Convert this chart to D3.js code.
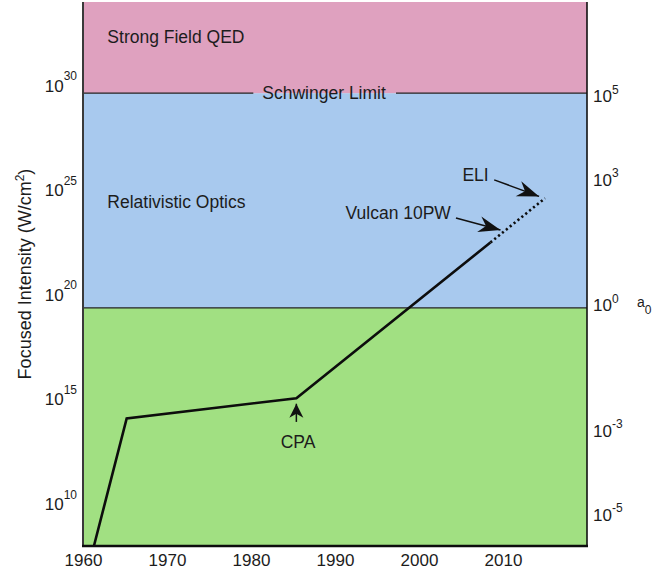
<!DOCTYPE html>
<html>
<head>
<meta charset="utf-8">
<script src="https://cdn.jsdelivr.net/npm/d3@7"></script>
<style>
body { margin: 0; background: #fff; }
text { font-family: "Liberation Sans", Arial, sans-serif; fill: #1c1c1c; }
</style>
</head>
<body>
<script>
// Datos
const years = [1961.3, 1965.2, 1985.4, 2008.5];
const intensity = [1e8, 1.26e14, 1.15e15, 3.2e22];
const projYears = [2008.5, 2015];
const projIntensity = [3.2e22, 4.2e24];

const regionNames = ["", "Relativistic Optics", "Strong Field QED"];
const regionBounds = [1e8, 2.4e19, 4.4e29, 1e34];
const regionColors = ["#a1e082", "#a8c9ee", "#dfa1bf"];
const regionLabelYear = 1962.9;
const regionLabelI = [0, 10 ** 24.46, 10 ** 32.35];

const schwingerLabel = "Schwinger Limit";
const schwingerYear = 1988.7;

const xTicks = [1960, 1970, 1980, 1990, 2000, 2010];
const yExponents = [10, 15, 20, 25, 30];
const a0Exponents = [-5, -3, 0, 3, 5];
const a0Ref = 10 ** 19.5; // intensidad donde a0 = 1

const noteText = ["ELI", "Vulcan 10PW", "CPA"];
const noteAt = [[2008.3, 10 ** 25.76], [2003.8, 10 ** 23.9], [1985.6, 1e13]];
const noteAnchor = ["end", "end", "middle"];
const arrowFrom = [[2008.95, 10 ** 25.5], [2004.4, 10 ** 23.68], [1985.4, 10 ** 13.93]];
const arrowTo = [[2014.3, 10 ** 24.71], [2009.7, 10 ** 23.1], [1985.4, 10 ** 14.8]];
const arrowSize = ["big", "big", "small"];

// Margenes y dimensiones
const width = 653, height = 576;
const margin = {top: 2, right: 66, bottom: 30, left: 83};

const svg = d3.select("body").append("svg")
  .attr("width", width)
  .attr("height", height);

const x = d3.scaleLinear()
  .domain([1960, 2020])
  .range([margin.left, width - margin.right]);

const y = d3.scaleLog()
  .domain([1e8, 1e34])
  .range([height - margin.bottom, margin.top]);

// Escala a0 (a0 ~ sqrt(I))
const a0 = d3.scaleLog()
  .domain([Math.sqrt(1e8 / a0Ref), Math.sqrt(1e34 / a0Ref)])
  .range([height - margin.bottom, margin.top]);

// Marcadores de flecha
const defs = svg.append("defs");
defs.append("marker")
  .attr("id", "head-big")
  .attr("markerUnits", "userSpaceOnUse")
  .attr("viewBox", "-24 -9 26 18")
  .attr("markerWidth", 26).attr("markerHeight", 18)
  .attr("refX", 0).attr("refY", 0)
  .attr("orient", "auto")
  .append("path")
  .attr("d", "M0,0 L-22,-8 L-15,0 L-22,8 Z")
  .attr("fill", "#111");
defs.append("marker")
  .attr("id", "head-small")
  .attr("markerUnits", "userSpaceOnUse")
  .attr("viewBox", "-16 -8 18 16")
  .attr("markerWidth", 18).attr("markerHeight", 16)
  .attr("refX", 0).attr("refY", 0)
  .attr("orient", "auto")
  .append("path")
  .attr("d", "M0,0 L-14,-7 L-10,0 L-14,7 Z")
  .attr("fill", "#111");

// Regiones
svg.selectAll(".region")
  .data(regionColors)
  .enter().append("rect")
  .attr("class", "region")
  .attr("x", x(1960))
  .attr("width", x(2020) - x(1960))
  .attr("y", (d, i) => y(regionBounds[i + 1]))
  .attr("height", (d, i) => y(regionBounds[i]) - y(regionBounds[i + 1]))
  .attr("fill", d => d);

// Etiquetas de region
svg.selectAll(".region-label")
  .data(regionNames.filter(d => d))
  .enter().append("text")
  .attr("class", "region-label")
  .attr("x", x(regionLabelYear))
  .attr("y", d => y(regionLabelI[regionNames.indexOf(d)]))
  .attr("dy", "0.35em")
  .style("font-size", "17.5px")
  .text(d => d);

// Limite verde/azul
svg.append("line")
  .attr("x1", x(1960)).attr("x2", x(2020))
  .attr("y1", y(regionBounds[1])).attr("y2", y(regionBounds[1]))
  .attr("stroke", "#222").attr("stroke-width", 1.4);

// Limite de Schwinger con hueco para el texto
const sy = y(regionBounds[2]);
const sText = svg.append("text")
  .attr("x", x(schwingerYear))
  .attr("y", sy)
  .attr("dy", "0.35em")
  .attr("text-anchor", "middle")
  .style("font-size", "17.5px")
  .text(schwingerLabel);
const sb = sText.node().getBBox();
svg.append("line")
  .attr("x1", x(1960)).attr("x2", sb.x - 9)
  .attr("y1", sy).attr("y2", sy)
  .attr("stroke", "#222").attr("stroke-width", 1.4);
svg.append("line")
  .attr("x1", sb.x + sb.width + 10).attr("x2", x(2020))
  .attr("y1", sy).attr("y2", sy)
  .attr("stroke", "#222").attr("stroke-width", 1.4);

// Curva de intensidad
const line = d3.line()
  .x(d => x(d[0]))
  .y(d => y(d[1]));

svg.append("path")
  .datum(d3.zip(years, intensity))
  .attr("d", line)
  .attr("fill", "none")
  .attr("stroke", "#0d0d0d")
  .attr("stroke-width", 2.6)
  .attr("stroke-linejoin", "miter");

svg.append("path")
  .datum(d3.zip(projYears, projIntensity))
  .attr("d", line)
  .attr("fill", "none")
  .attr("stroke", "#0d0d0d")
  .attr("stroke-width", 2.6)
  .attr("stroke-dasharray", "2.2,2.8");

// Anotaciones
svg.selectAll(".arrow")
  .data(noteText)
  .enter().append("line")
  .attr("class", "arrow")
  .attr("x1", (d, i) => x(arrowFrom[i][0]))
  .attr("y1", (d, i) => y(arrowFrom[i][1]))
  .attr("x2", (d, i) => x(arrowTo[i][0]))
  .attr("y2", (d, i) => y(arrowTo[i][1]))
  .attr("stroke", "#111")
  .attr("stroke-width", 1.5)
  .attr("marker-end", (d, i) => `url(#head-${arrowSize[i]})`);

svg.selectAll(".note")
  .data(noteText)
  .enter().append("text")
  .attr("class", "note")
  .attr("x", (d, i) => x(noteAt[i][0]))
  .attr("y", (d, i) => y(noteAt[i][1]))
  .attr("dy", "0.35em")
  .attr("text-anchor", (d, i) => noteAnchor[i])
  .style("font-size", "17.5px")
  .text(d => d);

// Marco
svg.append("line")
  .attr("x1", x(2020)).attr("x2", x(2020))
  .attr("y1", y(1e34)).attr("y2", y(1e8))
  .attr("stroke", "#111").attr("stroke-width", 1.6);
svg.append("line")
  .attr("x1", x(1960)).attr("x2", x(1960))
  .attr("y1", y(1e34)).attr("y2", y(1e8))
  .attr("stroke", "#3a3a3a").attr("stroke-width", 2);
svg.append("line")
  .attr("x1", x(1960) - 1).attr("x2", x(2020) + 1)
  .attr("y1", y(1e8)).attr("y2", y(1e8))
  .attr("stroke", "#0d0d0d").attr("stroke-width", 2.4);

// Eje X
const xAxis = svg.append("g")
  .attr("transform", `translate(0,${height - margin.bottom})`)
  .call(d3.axisBottom(x).tickValues(xTicks).tickSize(0).tickPadding(8).tickFormat(d3.format("d")));
xAxis.select(".domain").remove();
xAxis.attr("font-family", null).attr("font-size", null);
xAxis.selectAll("text")
  .attr("fill", null)
  .style("font-size", "17px");

// Potencias de diez con superindice
function powerLabel(sel, exps, raise) {
  sel.selectAll("text").each(function(d, i) {
    const t = d3.select(this);
    t.text(null).attr("fill", null).style("font-size", "17px");
    t.append("tspan").text("10");
    t.append("tspan")
      .attr("dy", -raise)
      .style("font-size", "12px")
      .text(exps[i]);
  });
}

// Eje Y izquierdo
const yAxis = svg.append("g")
  .attr("transform", `translate(${margin.left},0)`)
  .call(d3.axisLeft(y).tickValues(yExponents.map(e => 10 ** e)).tickSize(0).tickPadding(6));
yAxis.select(".domain").remove();
yAxis.attr("font-family", null).attr("font-size", null);
powerLabel(yAxis, yExponents, 11.5);

// Eje Y derecho (a0)
const a0Axis = svg.append("g")
  .attr("transform", `translate(${width - margin.right},0)`)
  .call(d3.axisRight(a0).tickValues(a0Exponents.map(e => 10 ** e)).tickSize(0).tickPadding(6));
a0Axis.select(".domain").remove();
a0Axis.attr("font-family", null).attr("font-size", null);
powerLabel(a0Axis, a0Exponents, 8.5);

// Titulo eje Y
const yTitle = svg.append("text")
  .attr("transform", `translate(25,${y(10 ** 21)}) rotate(-90)`)
  .attr("text-anchor", "middle")
  .attr("dy", "0.35em")
  .style("font-size", "18px");
yTitle.append("tspan").text("Focused Intensity (W/cm");
yTitle.append("tspan").attr("dy", -7).style("font-size", "12px").text("2");
yTitle.append("tspan").attr("dy", 7).text(")");

// Etiqueta a0
const a0Title = svg.append("text")
  .attr("x", width - margin.right + 50)
  .attr("y", a0(1))
  .attr("dy", "0.1em")
  .style("font-size", "14px");
a0Title.append("tspan").text("a");
a0Title.append("tspan").attr("dy", 7).style("font-size", "12px").text("0");
</script>
</body>
</html>
